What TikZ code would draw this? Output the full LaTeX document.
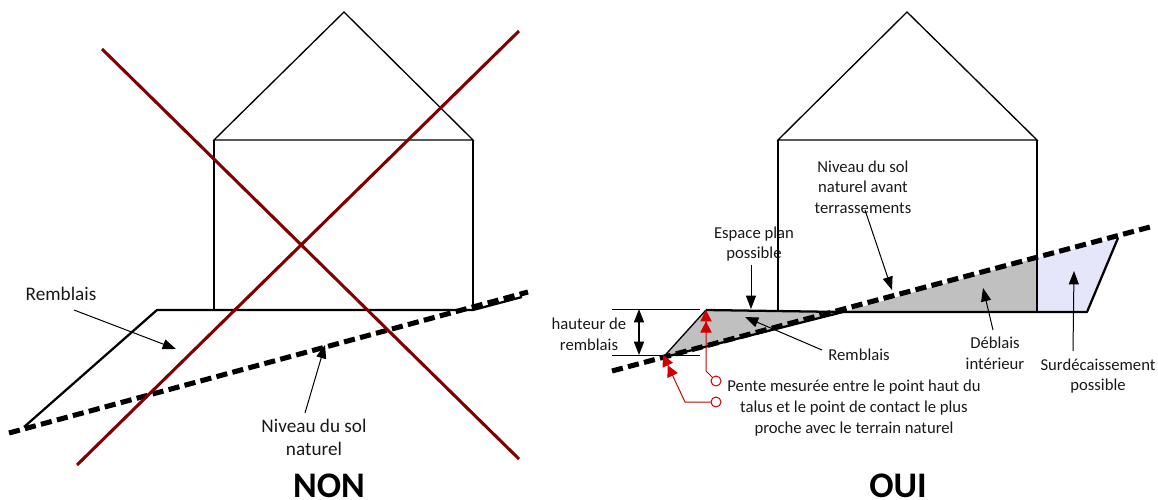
\documentclass[tikz,border=0pt]{standalone}
\usepackage{fontspec}
\setmainfont{Carlito}
\usetikzlibrary{positioning, calc}
\usetikzlibrary{arrows.meta}

\definecolor{darkcross}{RGB}{128,0,0}
\definecolor{redpin}{RGB}{208,0,0}
\definecolor{greyfill}{RGB}{192,192,192}
\definecolor{lilacfill}{RGB}{230,230,250}

\begin{document}
\begin{tikzpicture}[x=0.75pt,y=-0.75pt,draw=black!100]
	\def \lw{1pt}
	\tikzstyle{annot}=[inner sep=0pt,align=center,text=black!90,font=\fontsize{12.5}{15.5}\selectfont]
	\tikzstyle{annotbig}=[annot,font=\fontsize{14.4}{17.3}\selectfont]
	\tikzstyle{verdict}=[inner sep=0pt,font=\fontsize{27}{27}\selectfont\bfseries]
	\tikzstyle{house}=[line width=\lw]
	\tikzstyle{ground}=[line width=1.7pt,line join=round]
	\tikzstyle{terrain}=[line width=3.8pt,dash pattern=on 8.4pt off 4pt]
	\tikzstyle{cross}=[line width=2.3pt,color=darkcross]
	\tikzstyle{pointer}=[line width=0.75pt,-{Triangle[length=10pt,width=7.5pt]}]
	\tikzstyle{dimline}=[line width=0.75pt]
	\tikzstyle{redline}=[line width=0.75pt,draw=redpin,-{Triangle[length=8.5pt,width=8.5pt,color=redpin]Triangle[length=8.5pt,width=8.5pt,color=redpin]}]
	\tikzstyle{pin}=[circle,draw=redpin,fill=white,line width=0.75pt,inner sep=0pt,minimum size=7.5pt]
	\useasboundingbox (0,0) rectangle (1158,500);

	% left house
	\coordinate (lapex) at (344,12);
	\coordinate (leaveA) at (214,140);
	\coordinate (leaveB) at (473,140);
	\coordinate (lfootA) at (214,310);
	\coordinate (lfootB) at (473,310);
	\coordinate (ltoe) at (24,427);
	\coordinate (lcrest) at (157,310);
	\coordinate (lend) at (522,297);
	\coordinate (lterrA) at (9,433);
	\coordinate (lterrB) at (528,292);
	\coordinate (crossAa) at (102,49);
	\coordinate (crossAb) at (519,459);
	\coordinate (crossBa) at (77,465);
	\coordinate (crossBb) at (519,31);
	\coordinate (ltipA) at (176,349);
	\coordinate (ltipB) at (325,345);

	% right house
	\coordinate (rapex) at (907,12);
	\coordinate (reaveA) at (778,140);
	\coordinate (reaveB) at (1037,140);
	\coordinate (rfootA) at (778,310);
	\coordinate (rfootB) at (1037,258);
	\coordinate (rbaseB) at (1037,312);
	\coordinate (rtoe) at (663,357.5);
	\coordinate (rcrest) at (706,310);
	\coordinate (rhinge) at (843,312);
	\coordinate (rdig) at (1087,312);
	\coordinate (rtop) at (1118,238);
	\coordinate (rterrA) at (612,371);
	\coordinate (rterrB) at (1150,227);

	% filled areas
	\fill[greyfill] (rcrest) -- (rhinge) -- (rtoe) -- cycle;
	\fill[greyfill] (rhinge) -- (rfootB) -- (rbaseB) -- cycle;
	\fill[lilacfill] (rfootB) -- (rtop) -- (rdig) -- (rbaseB) -- cycle;

	% houses
	\draw[house] (leaveA) -- (lapex) -- (leaveB) -- cycle;
	\draw[house] (leaveA) -- (lfootA);
	\draw[house] (leaveB) -- (lfootB);
	\draw[house] (reaveA) -- (rapex) -- (reaveB) -- cycle;
	\draw[house] (reaveA) -- (rfootA);
	\draw[house] (reaveB) -- (rbaseB);

	% ground lines
	\draw[ground] (ltoe) -- (lcrest) -- (lfootB) -- (lend);
	\draw[house] (rtoe) -- (rcrest);
	\draw[ground] (rcrest) -- (rhinge);
	\draw[ground] (rtoe) -- (rhinge) -- (rdig) -- (rtop);
	\draw[terrain] (lterrA) -- (lterrB);
	\draw[terrain] (rterrA) -- (rterrB);

	% the cross
	\draw[cross] (crossAa) -- (crossAb);
	\draw[cross] (crossBa) -- (crossBb);

	% labels
	\node[annotbig] (lremblais) at (61,294) {Remblais};
	\node[annotbig] (lniveau) at (314,437) {Niveau du sol\\naturel};
	\node[verdict] (non) at (329,486) {NON};
	\node[annot] (rniveau) at (863,187) {Niveau du sol\\naturel avant\\terrassements};
	\node[annot] (espace) at (754,244) {Espace plan\\possible};
	\node[annot] (hauteur) at (589,334) {hauteur de\\remblais};
	\node[annot] (rremblais) at (859,355) {Remblais};
	\node[annot] (deblais) at (995,353) {Déblais\\intérieur};
	\node[annot] (surdec) at (1098,376) {Surdécaissement\\possible};
	\node[annot] (pente) at (854,408) {Pente mesurée entre le point haut du\\talus et le point de contact le plus\\proche avec le terrain naturel};
	\node[verdict] (oui) at (898,486) {OUI};

	% dimension marks
	\coordinate (dimAa) at (612,309);
	\coordinate (dimAb) at (700,309);
	\coordinate (dimBa) at (612,355);
	\coordinate (dimBb) at (700,355);
	\coordinate (dimtop) at (639,309);
	\coordinate (dimbot) at (639,355);
	\draw[dimline] (dimAa) -- (dimAb);
	\draw[dimline] (dimBa) -- (dimBb);
	\draw[line width=1.1pt,{Triangle[length=10pt,width=7.5pt]}-{Triangle[length=10pt,width=7.5pt]}] (dimtop) -- (dimbot);

	% pointers
	\coordinate (startA) at (74,310);
	\coordinate (startB) at (305,413);
	\coordinate (startC) at (865,210);
	\coordinate (tipC) at (892,290);
	\coordinate (startD) at (751,265);
	\coordinate (tipD) at (751,309);
	\coordinate (startE) at (822,350);
	\coordinate (tipE) at (745,317);
	\coordinate (startF) at (993,330);
	\coordinate (tipF) at (983,288);
	\coordinate (startG) at (1073,351);
	\coordinate (tipG) at (1074,271);
	\path
		(startA)	edge[pointer]	(ltipA)
		(startB)	edge[pointer]	(ltipB)
		(startC)	edge[pointer]	(tipC)
		(startD)	edge[pointer]	(tipD)
		(startE)	edge[pointer]	(tipE)
		(startF)	edge[pointer]	(tipF)
		(startG)	edge[pointer]	(tipG);

	% red pins
	\node[pin] (pinA) at (716,381) {};
	\node[pin] (pinB) at (716,402) {};
	\coordinate (bendA) at (706,371);
	\coordinate (bendB) at (685,402);
	\coordinate (redtipA) at (706,310);
	\coordinate (redtipB) at (663,355);
	\draw[redline] (pinA) -- (bendA) -- (redtipA);
	\draw[redline] (pinB) -- (bendB) -- (redtipB);
\end{tikzpicture}
\end{document}
